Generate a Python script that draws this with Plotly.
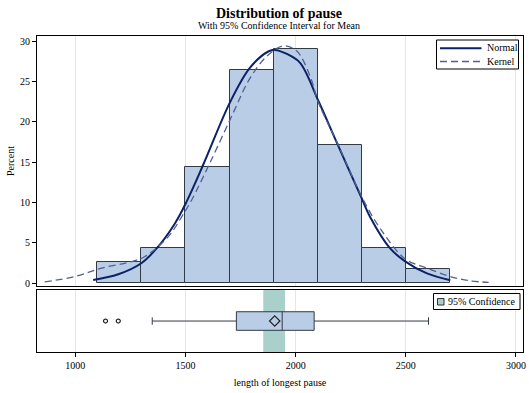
import plotly.graph_objects as go

# ---------------- data ----------------
bin_centers = [1200, 1400, 1600, 1800, 2000, 2200, 2400, 2600]
bin_width = 200
bin_percent = [2.6, 4.3, 14.4, 26.4, 29.0, 17.1, 4.3, 1.8]

normal_x = [1081, 1195, 1301, 1369, 1452, 1505, 1581, 1702, 1793, 1876, 1906, 1960,
            2020, 2103, 2187, 2300, 2338, 2429, 2497, 2596, 2702]
normal_y = [0.40, 1.1, 2.5, 4.3, 7.4, 10.1, 14.7, 22.4, 26.7, 28.7, 28.9, 28.4,
            27.3, 22.6, 17.4, 10.5, 8.2, 4.3, 2.7, 1.2, 0.35]

kernel_x = [861, 998, 1119, 1255, 1316, 1422, 1497, 1528, 1611, 1710, 1793, 1869,
            1944, 2005, 2065, 2103, 2187, 2300, 2383, 2497, 2596, 2702, 2793, 2876]
kernel_y = [0.15, 0.82, 1.86, 2.67, 3.3, 5.77, 8.86, 10.3, 14.9, 20.7, 25.4, 28.1,
            29.4, 28.75, 25.7, 22.4, 17.5, 10.7, 6.8, 3.0, 1.86, 0.82, 0.28, 0.1]

box_q1 = 1731
box_median = 1939
box_q3 = 2084
box_mean = 1905
box_low_whisker = 1349
box_high_whisker = 2603
outliers = [1137, 1195]
ci_lower = 1853
ci_upper = 1952

x_ticks = [1000, 1500, 2000, 2500, 3000]
y_ticks = [0, 5, 10, 15, 20, 25, 30]

legend_labels = ["Normal", "Kernel"]
ci_label = "95% Confidence"

# ---------------- style ----------------
FONT = "Liberation Serif"
BAR_FILL = "#b9cde7"
EDGE = "#323a46"
NAVY = "#0c2266"
KERNEL = "#4f6190"
CI_FILL = "#a9d0cb"
GRID = "#e6e6e6"
KDASH = "7px,4px"

W, H = 529, 393
ML, MR, MT, MB = 37, 6, 36, 41
PW, PH = W - ML - MR, H - MT - MB


def px(xp):
    return (xp - ML) / PW


def py(yp):
    return (H - MB - yp) / PH


fig = go.Figure()

fig.add_trace(go.Bar(
    x=bin_centers, y=bin_percent, width=[bin_width] * len(bin_centers),
    marker=dict(color=BAR_FILL, line=dict(color=EDGE, width=1)),
    xaxis="x", yaxis="y", showlegend=False, hoverinfo="skip"))

fig.add_trace(go.Scatter(
    x=normal_x, y=normal_y, mode="lines", line=dict(color=NAVY, width=2, shape="spline"),
    name=legend_labels[0], showlegend=False, xaxis="x", yaxis="y"))

fig.add_trace(go.Scatter(
    x=kernel_x, y=kernel_y, mode="lines",
    line=dict(color=KERNEL, width=1.3, dash=KDASH, shape="spline"),
    name=legend_labels[1], showlegend=False, xaxis="x", yaxis="y"))

# box plot panel
fig.add_trace(go.Box(
    orientation="h", y=[0],
    q1=[box_q1], median=[box_median], q3=[box_q3],
    lowerfence=[box_low_whisker], upperfence=[box_high_whisker],
    width=0.6, whiskerwidth=0.4,
    fillcolor=BAR_FILL, line=dict(color=EDGE, width=1),
    boxpoints=False, showlegend=False, xaxis="x2", yaxis="y2"))

fig.add_trace(go.Scatter(
    x=outliers, y=[0] * len(outliers), mode="markers",
    marker=dict(symbol="circle-open", size=4, color="#222222", line=dict(width=1.2)),
    showlegend=False, xaxis="x2", yaxis="y2"))

fig.add_trace(go.Scatter(
    x=[box_mean], y=[0], mode="markers",
    marker=dict(symbol="diamond-open", size=8, color="#222222", line=dict(width=1.2)),
    showlegend=False, xaxis="x2", yaxis="y2"))

shapes = [
    dict(type="rect", xref="x2", yref="y2 domain", x0=ci_lower, x1=ci_upper,
         y0=0, y1=1, fillcolor=CI_FILL, line=dict(width=0), layer="below"),
    # legend 1 frame + samples
    dict(type="rect", xref="paper", yref="paper", x0=px(436.5), x1=px(518.5),
         y0=py(69), y1=py(40), fillcolor="white", line=dict(color="black", width=1)),
    dict(type="line", xref="paper", yref="paper", x0=px(440), x1=px(481.5),
         y0=py(48.3), y1=py(48.3), line=dict(color=NAVY, width=2)),
    dict(type="line", xref="paper", yref="paper", x0=px(440), x1=px(481.5),
         y0=py(61.5), y1=py(61.5), line=dict(color=KERNEL, width=1.3, dash=KDASH)),
    # legend 2 frame + square
    dict(type="rect", xref="paper", yref="paper", x0=px(433.5), x1=px(520),
         y0=py(309.5), y1=py(293.5), fillcolor="white", line=dict(color="black", width=1)),
    dict(type="rect", xref="paper", yref="paper", x0=px(437.5), x1=px(444),
         y0=py(305), y1=py(298.5), fillcolor=CI_FILL, line=dict(color="#333333", width=1)),
]

annotations = [
    dict(text="<b>Distribution of pause</b>", x=px(279), y=py(13.5), xref="paper",
         yref="paper", showarrow=False, font=dict(size=14), yanchor="middle"),
    dict(text="With 95% Confidence Interval for Mean", x=px(279), y=py(25.5),
         xref="paper", yref="paper", showarrow=False, font=dict(size=10),
         yanchor="middle"),
    dict(text=legend_labels[0], x=px(485), y=py(48), xref="paper", yref="paper",
         xanchor="left", yanchor="middle", showarrow=False, font=dict(size=10)),
    dict(text=legend_labels[1], x=px(485), y=py(61.5), xref="paper", yref="paper",
         xanchor="left", yanchor="middle", showarrow=False, font=dict(size=10)),
    dict(text=ci_label, x=px(446), y=py(301.5), xref="paper", yref="paper",
         xanchor="left", yanchor="middle", showarrow=False, font=dict(size=10)),
]

x_range = [826, 3032]
axis_common = dict(showline=True, linecolor="black", linewidth=1, mirror=True,
                   zeroline=False, automargin=False)

fig.update_layout(
    width=W, height=H,
    margin=dict(l=ML, r=MR, t=MT, b=MB, autoexpand=False),
    paper_bgcolor="white", plot_bgcolor="white",
    font=dict(family=FONT, size=10, color="black"),
    bargap=0,
    showlegend=False,
    xaxis=dict(domain=[0, 1], range=x_range, anchor="y", tickvals=x_ticks,
               showticklabels=False, ticks="", showgrid=True, gridcolor=GRID,
               **axis_common),
    yaxis=dict(domain=[0.209, 1], range=[-0.35, 30.62], tickvals=y_ticks,
               ticks="outside", ticklen=4, tickcolor="black", showgrid=False,
               title=dict(text="Percent", standoff=3, font=dict(size=10)),
               anchor="x", **axis_common),
    xaxis2=dict(domain=[0, 1], range=x_range, anchor="y2", tickvals=x_ticks,
                ticks="outside", ticklen=4, tickcolor="black", showgrid=True,
                gridcolor=GRID,
                title=dict(text="length of longest pause", standoff=8,
                           font=dict(size=10)),
                **axis_common),
    yaxis2=dict(domain=[0, 0.196], range=[-1, 1], showticklabels=False, ticks="",
                showgrid=False, anchor="x2", **axis_common),
    shapes=shapes,
    annotations=annotations,
)

fig.write_html(
    "out.html",
    config={"displayModeBar": False},
    post_script="document.body.style.margin='0';document.body.style.overflow='hidden';",
)
